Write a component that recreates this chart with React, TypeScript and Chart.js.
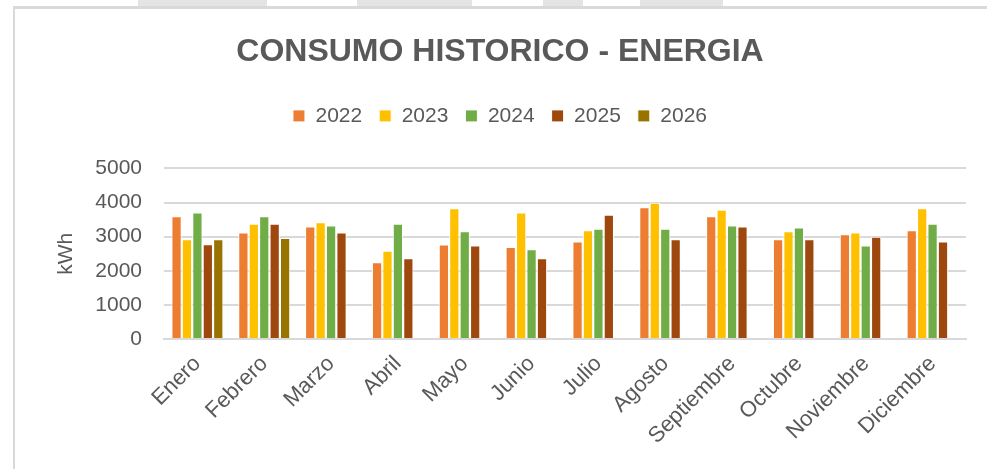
import React, { useEffect, useRef } from "react";
import { Chart, registerables } from "chart.js";

Chart.register(...registerables);

const months = ["Enero", "Febrero", "Marzo", "Abril", "Mayo", "Junio", "Julio", "Agosto", "Septiembre", "Octubre", "Noviembre", "Diciembre"];
const years = ["2022", "2023", "2024", "2025", "2026"];
const v2022 = [3600, 3120, 3300, 2250, 2770, 2700, 2860, 3860, 3600, 2920, 3070, 3190];
const v2023 = [2920, 3380, 3420, 2590, 3830, 3710, 3190, 3990, 3790, 3160, 3120, 3830];
const v2024 = [3710, 3600, 3330, 3380, 3160, 2630, 3230, 3230, 3330, 3270, 2740, 3380];
const v2025 = [2780, 3380, 3120, 2370, 2740, 2370, 3640, 2920, 3300, 2920, 3000, 2860];
const v2026 = [2920, 2960, null, null, null, null, null, null, null, null, null, null];
const colors = ["#ED7D31", "#FFC000", "#70AD47", "#9E480E", "#997300"];
const yTicks = [0, 1000, 2000, 3000, 4000, 5000];

const FONT = '"Liberation Sans", Arial, sans-serif';
const TXT = "#595959";

const legendMargin = {
  id: "legendMargin",
  beforeInit(chart: any) {
    const orig = chart.legend.fit;
    chart.legend.fit = function fit() {
      orig.bind(chart.legend)();
      this.height += 32;
    };
  },
};

export default function App() {
  const ref = useRef<HTMLCanvasElement | null>(null);

  useEffect(() => {
    if (!ref.current) return;
    const series = [v2022, v2023, v2024, v2025, v2026];
    const chart = new Chart(ref.current, {
      type: "bar",
      data: {
        labels: months,
        datasets: series.map((d, i) => ({
          label: years[i],
          data: d,
          backgroundColor: colors[i],
          borderColor: "#ffffff",
          borderWidth: 1,
          categoryPercentage: 0.78,
          barPercentage: 0.98,
        })),
      },
      plugins: [legendMargin],
      options: {
        responsive: true,
        maintainAspectRatio: false,
        animation: false,
        layout: { padding: { top: 0, left: 0, right: 0, bottom: 0 } },
        plugins: {
          title: {
            display: true,
            text: "CONSUMO HISTORICO - ENERGIA",
            color: TXT,
            font: { family: FONT, size: 32, weight: "bold" },
            padding: { top: 23, bottom: 17 },
          },
          legend: {
            position: "top",
            labels: {
              boxWidth: 12,
              boxHeight: 12,
              padding: 17,
              color: TXT,
              font: { family: FONT, size: 21 },
            },
          },
          tooltip: { enabled: false },
        },
        scales: {
          x: {
            grid: { display: false },
            border: { display: true, color: "#d9d9d9", width: 2 },
            ticks: {
              color: TXT,
              font: { family: FONT, size: 22 },
              minRotation: 45,
              maxRotation: 45,
              padding: 4,
            },
            afterFit: (s: any) => {
              s.height = 130;
            },
          },
          y: {
            min: 0,
            max: 5000,
            afterBuildTicks: (s: any) => {
              s.ticks = yTicks.map((v) => ({ value: v }));
            },
            grid: { color: "#d9d9d9", lineWidth: 2, drawTicks: false },
            border: { display: false },
            ticks: {
              color: TXT,
              font: { family: FONT, size: 21 },
              padding: 22,
              callback: (v: any) => String(v),
            },
            title: {
              display: true,
              text: "kWh",
              color: TXT,
              font: { family: FONT, size: 21 },
              padding: { top: 38, bottom: 0 },
            },
            afterFit: (s: any) => {
              s.width = 148;
            },
          },
          yR: {
            position: "right",
            display: true,
            grid: { display: false, drawTicks: false },
            border: { display: false },
            ticks: { display: false },
            afterFit: (s: any) => {
              s.width = 18;
            },
          },
        },
      } as any,
    });
    return () => chart.destroy();
  }, []);

  const wm = (left: number, width: number) => (
    <div style={{ position: "absolute", left, top: 0, width, height: 6, background: "#e4e4e4" }} />
  );

  return (
    <div style={{ position: "fixed", left: 0, top: 0, width: 987, height: 469, overflow: "hidden", background: "#ffffff" }}>
      {wm(138, 129)}
      {wm(357, 115)}
      {wm(543, 40)}
      {wm(640, 83)}
      <div style={{ position: "absolute", left: 13, top: 6, width: 974, height: 3, background: "#d9d9d9" }} />
      <div style={{ position: "absolute", left: 13, top: 6, width: 2, height: 463, background: "#d9d9d9" }} />
      <div style={{ position: "absolute", left: 16, top: 10, width: 968, height: 459 }}>
        <canvas ref={ref} />
      </div>
    </div>
  );
}
